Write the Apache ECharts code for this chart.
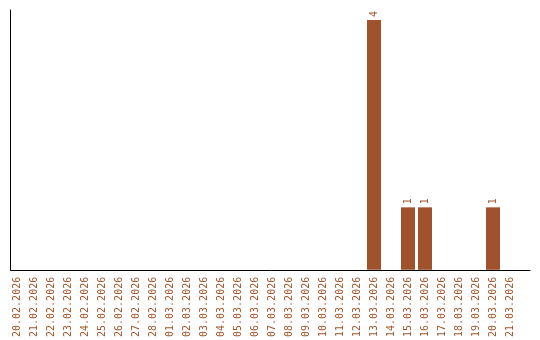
<!DOCTYPE html>
<html><head><meta charset="utf-8">
<script src="https://cdn.jsdelivr.net/npm/echarts@6/dist/echarts.min.js"></script>
<style>html,body{margin:0;padding:0;background:#fff}#c{width:540px;height:340px}</style>
</head><body><div id="c"></div>
<script>
const categories = ['20.02.2026','21.02.2026','22.02.2026','23.02.2026','24.02.2026','25.02.2026','26.02.2026','27.02.2026','28.02.2026','01.03.2026','02.03.2026','03.03.2026','04.03.2026','05.03.2026','06.03.2026','07.03.2026','08.03.2026','09.03.2026','10.03.2026','11.03.2026','12.03.2026','13.03.2026','14.03.2026','15.03.2026','16.03.2026','17.03.2026','18.03.2026','19.03.2026','20.03.2026','21.03.2026'];
const values = [0,0,0,0,0,0,0,0,0,0,0,0,0,0,0,0,0,0,0,0,0,4,0,1,1,0,0,0,1,0];
const yMax = 4.16;

const color = '#A0562A';
const font = 'DejaVu Sans Mono';
const chart = echarts.init(document.getElementById('c'), null, {renderer:'canvas'});
chart.setOption({
  animation:false,
  grid:[
    {left:8.5, top:10, width:510, height:260},
    {left:10.5, top:10, right:10, height:260}
  ],
  xAxis:[
    {type:'category', gridIndex:0, data:categories,
     axisLine:{show:false}, axisTick:{show:false},
     axisLabel:{rotate:90, interval:0, color:color, fontFamily:font, fontSize:10, margin:7}},
    {type:'value', gridIndex:1, min:0, max:1, show:true,
     axisLine:{show:true, lineStyle:{color:'#000', width:1}}, axisTick:{show:false},
     axisLabel:{show:false}, splitLine:{show:false}}
  ],
  yAxis:[
    {type:'value', gridIndex:0, min:0, max:yMax, show:false, splitLine:{show:false}},
    {type:'value', gridIndex:1, min:0, max:1,
     axisLine:{show:true, lineStyle:{color:'#000', width:1}}, axisTick:{show:false},
     axisLabel:{show:false}, splitLine:{show:false}}
  ],
  series:[{
    type:'bar', xAxisIndex:0, yAxisIndex:0,
    data: values.map(v => v === 0 ? {value:v, label:{show:false}} : v),
    barWidth:14,
    itemStyle:{color:'#A0522D'},
    label:{show:true, position:'top', rotate:90, align:'left', verticalAlign:'middle',
      distance:3, color:color, fontFamily:font, fontSize:10}
  }]
});
</script></body></html>
